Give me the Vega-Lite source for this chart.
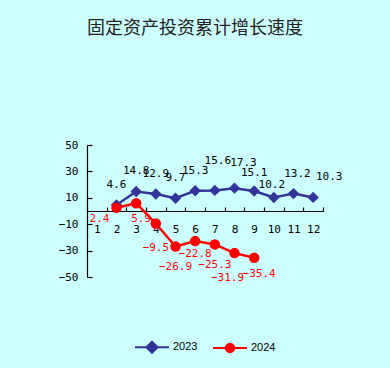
{
  "$schema": "https://vega.github.io/schema/vega-lite/v6.json",
  "width": 236,
  "height": 132,
  "autosize": "none",
  "padding": {"left": 87, "top": 145, "right": 67, "bottom": 91},
  "background": "#CCFFFF",
  "view": {"stroke": null},
  "title": {
    "text": "固定资产投资累计增长速度",
    "font": "Noto Sans CJK SC",
    "fontSize": 18,
    "fontWeight": "normal",
    "color": "#222222",
    "anchor": "middle",
    "frame": "group",
    "dx": -10,
    "offset": 101
  },
  "config": {
    "axis": {
      "domainColor": "#000000",
      "tickColor": "#000000",
      "labelColor": "#000000",
      "labelFont": "DejaVu Sans Mono",
      "labelFontSize": 11,
      "grid": false,
      "title": null,
      "domainWidth": 1.2,
      "tickWidth": 1.2
    }
  },
  "data": {
    "values": [
      {"month": 2, "series": "2023", "value": 4.6},
      {"month": 3, "series": "2023", "value": 14.8},
      {"month": 4, "series": "2023", "value": 12.9},
      {"month": 5, "series": "2023", "value": 9.7},
      {"month": 6, "series": "2023", "value": 15.3},
      {"month": 7, "series": "2023", "value": 15.6},
      {"month": 8, "series": "2023", "value": 17.3},
      {"month": 9, "series": "2023", "value": 15.1},
      {"month": 10, "series": "2023", "value": 10.2},
      {"month": 11, "series": "2023", "value": 13.2},
      {"month": 12, "series": "2023", "value": 10.3},
      {"month": 2, "series": "2024", "value": 2.4},
      {"month": 3, "series": "2024", "value": 5.9},
      {"month": 4, "series": "2024", "value": -9.5},
      {"month": 5, "series": "2024", "value": -26.9},
      {"month": 6, "series": "2024", "value": -22.8},
      {"month": 7, "series": "2024", "value": -25.3},
      {"month": 8, "series": "2024", "value": -31.9},
      {"month": 9, "series": "2024", "value": -35.4}
    ]
  },
  "encoding": {
    "x": {
      "field": "month",
      "type": "ordinal",
      "scale": {"domain": [1, 2, 3, 4, 5, 6, 7, 8, 9, 10, 11, 12], "paddingInner": 0, "paddingOuter": 0},
      "axis": {"labelAngle": 0, "offset": -66, "tickBand": "extent", "tickSize": -4, "labelPadding": 22, "labelBaseline": "middle"}
    },
    "y": {
      "field": "value",
      "type": "quantitative",
      "scale": {"domain": [-50, 50], "nice": false, "zero": false},
      "axis": {"values": [-50, -30, -10, 10, 30, 50], "tickSize": -5, "labelPadding": 14}
    },
    "color": {
      "field": "series",
      "type": "nominal",
      "scale": {"domain": ["2023", "2024"], "range": ["#333399", "#FF0000"]},
      "legend": {
        "orient": "none",
        "legendX": 47,
        "legendY": 184,
        "direction": "horizontal",
        "title": null,
        "padding": 0,
        "symbolSize": 1156,
        "symbolStrokeWidth": 2,
        "symbolOpacity": 1,
        "labelFont": "Liberation Sans",
        "labelFontSize": 11,
        "labelColor": "#000000",
        "labelOffset": 3,
        "columnPadding": 11,
        "encode": {
          "symbols": {
            "update": {
              "shape": {"signal": "datum.value === '2023' ? 'M-1,0L1,0M0,-0.33L0.33,0L0,0.33L-0.33,0Z' : 'M-1,0L1,0M0.25,0A0.25,0.25,0,1,1,-0.25,0A0.25,0.25,0,1,1,0.25,0Z'"},
              "stroke": {"scale": "color", "field": "value"},
              "fill": {"scale": "color", "field": "value"},
              "strokeWidth": {"value": 2}
            }
          }
        }
      }
    }
  },
  "layer": [
    {
      "mark": {"type": "line", "strokeWidth": 2.5}
    },
    {
      "transform": [{"filter": "datum.series === '2023'"}],
      "mark": {"type": "point", "shape": "diamond", "filled": true, "opacity": 1, "size": 130}
    },
    {
      "transform": [{"filter": "datum.series === '2024'"}],
      "mark": {"type": "point", "shape": "circle", "filled": true, "opacity": 1, "size": 110}
    },
    {
      "transform": [{"filter": "datum.series === '2023'"}],
      "mark": {
        "type": "text", "font": "DejaVu Sans Mono", "fontSize": 11, "baseline": "middle",
        "dx": {"expr": "datum.month == 8 ? 9 : datum.month == 12 ? 16 : datum.month == 10 ? -2 : datum.month == 7 ? 3 : datum.month == 11 ? 4 : 0"},
        "dy": {"expr": "datum.month == 7 ? -29 : datum.month == 8 ? -25 : datum.month == 9 ? -18 : datum.month == 10 ? -13 : -20"}
      },
      "encoding": {"text": {"field": "value", "type": "quantitative", "format": ".1f"}, "color": {"value": "#000000"}}
    },
    {
      "transform": [{"filter": "datum.series === '2024'"}],
      "mark": {
        "type": "text", "font": "DejaVu Sans Mono", "fontSize": 11, "baseline": "middle",
        "dx": {"expr": "datum.month == 2 ? -17 : datum.month == 3 ? 5 : datum.month == 8 ? -7 : datum.month == 9 ? 5 : 0"},
        "dy": {"expr": "datum.month == 2 ? 11 : datum.month == 3 ? 16 : datum.month == 6 ? 13 : datum.month == 9 ? 16 : datum.month == 8 ? 25 : datum.month == 5 ? 20 : datum.month == 7 ? 21 : 24"}
      },
      "encoding": {"text": {"field": "value", "type": "quantitative", "format": ".1f"}, "color": {"value": "#FF0000"}}
    }
  ]
}
